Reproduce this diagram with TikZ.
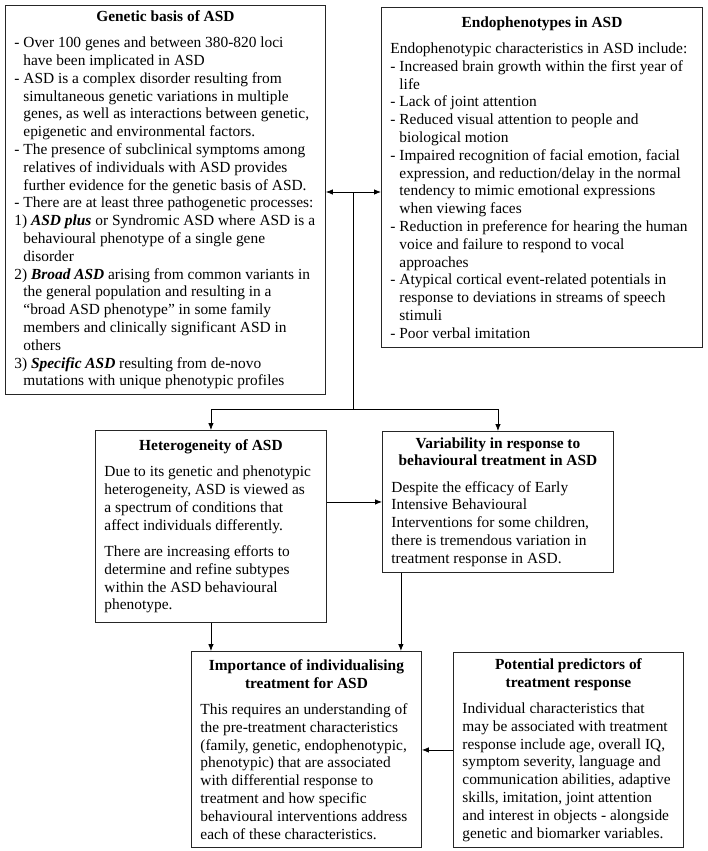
\documentclass[tikz,border=0pt]{standalone}
\usepackage{fontspec}
\setmainfont{Liberation Serif}
\usetikzlibrary{arrows.meta, positioning, calc}

\newcommand{\bodyfont}{\fontsize{15.4pt}{17.8pt}\selectfont}
\newcommand{\paneltitle}[1]{{\centering\bfseries #1\par}\vspace{8.5pt}\leftskip=4pt\relax}
\newcommand{\listitem}[2]{\hangindent=9pt\hangafter=1 #1 #2\par}

\tikzset{
  panel/.style={draw=black!85, line width=0.9pt, anchor=north west, align=flush left,
    inner xsep=5pt, inner ysep=0pt, font=\bodyfont},
  arrowline/.style={line width=0.8pt, -{Latex[length=7pt,width=5.5pt]}},
  twoway/.style={line width=0.8pt, {Latex[length=7pt,width=5.5pt]}-{Latex[length=7pt,width=5.5pt]}},
  plainline/.style={line width=0.8pt}
}

\begin{document}
\begin{tikzpicture}[x=1pt, y=-1pt]
  \useasboundingbox (0,0) rectangle (708,851);

  % Top row
  \node[panel, text width=310pt, minimum height=389pt] (genetic) at (5,5) {
    \paneltitle{Genetic basis of ASD}
    \listitem{-}{Over 100 genes and between 380-820 loci\newline have been implicated in ASD}
    \listitem{-}{ASD is a complex disorder resulting from\newline simultaneous genetic variations in multiple\newline genes, as well as interactions between genetic,\newline epigenetic and environmental factors.}
    \listitem{-}{The presence of subclinical symptoms among\newline relatives of individuals with ASD provides\newline further evidence for the genetic basis of ASD.}
    \listitem{-}{There are at least three pathogenetic processes:}
    \listitem{1)}{\textbf{\textit{ASD plus}} or Syndromic ASD where ASD is a\newline behavioural phenotype of a single gene\newline disorder}
    \listitem{2)}{\textbf{\textit{Broad ASD}} arising from common variants in\newline the general population and resulting in a\newline “broad ASD phenotype” in some family\newline members and clinically significant ASD in\newline others}
    \listitem{3)}{\textbf{\textit{Specific ASD}} resulting from de-novo\newline mutations with unique phenotypic profiles}
  };

  \node[panel, text width=311pt, minimum height=340pt] (endo) at (381,7) {
    \paneltitle{Endophenotypes in ASD}
    Endophenotypic characteristics in ASD include:\par
    \listitem{-}{Increased brain growth within the first year of\newline life}
    \listitem{-}{Lack of joint attention}
    \listitem{-}{Reduced visual attention to people and\newline biological motion}
    \listitem{-}{Impaired recognition of facial emotion, facial\newline expression, and reduction/delay in the normal\newline tendency to mimic emotional expressions\newline when viewing faces}
    \listitem{-}{Reduction in preference for hearing the human\newline voice and failure to respond to vocal\newline approaches}
    \listitem{-}{Atypical cortical event-related potentials in\newline response to deviations in streams of speech\newline stimuli}
    \listitem{-}{Poor verbal imitation}
  };

  % Middle row
  \node[panel, text width=221pt, minimum height=192pt] (het) at (95,430) {
    \paneltitle{Heterogeneity of ASD}
    Due to its genetic and phenotypic\newline heterogeneity, ASD is viewed as\newline a spectrum of conditions that\newline affect individuals differently.\par
    \vspace{8.5pt}
    There are increasing efforts to\newline determine and refine subtypes\newline within the ASD behavioural\newline phenotype.\par
  };

  \node[panel, text width=221pt, minimum height=141pt] (var) at (382,431) {
    \paneltitle{Variability in response to\\behavioural treatment in ASD}
    Despite the efficacy of Early\newline Intensive Behavioural\newline Interventions for some children,\newline there is tremendous variation in\newline treatment response in ASD.\par
  };

  % Bottom row
  \node[panel, text width=220pt, minimum height=196pt] (imp) at (191,651) {
    \paneltitle{Importance of individualising\\treatment for ASD}
    This requires an understanding of\newline the pre-treatment characteristics\newline (family, genetic, endophenotypic,\newline phenotypic) that are associated\newline with differential response to\newline treatment and how specific\newline behavioural interventions address\newline each of these characteristics.\par
  };

  \node[panel, text width=220pt, minimum height=195pt] (pred) at (453,652) {
    \paneltitle{Potential predictors of\\treatment response}
    Individual characteristics that\newline may be associated with treatment\newline response include age, overall IQ,\newline symptom severity, language and\newline communication abilities, adaptive\newline skills, imitation, joint attention\newline and interest in objects - alongside\newline genetic and biomarker variables.\par
  };

  % Connectors
  \coordinate (hub) at (353,192);
  \coordinate (split) at (353,409);
  \coordinate (varin) at ([xshift=-21pt]imp.north east);
  \draw[twoway] (genetic.east |- hub) -- (endo.west |- hub);
  \draw[plainline] (hub) -- (split);
  \draw[arrowline] (split) -| (het.north);
  \draw[arrowline] (split) -| (var.north);
  \draw[arrowline] (het.east |- var.west) -- (var.west);
  \draw[arrowline] (het.south) -- (het.south |- imp.north);
  \draw[arrowline] (var.south -| varin) -- (varin);
  \draw[arrowline] (pred.west) -- (imp.east |- pred.west);
\end{tikzpicture}
\end{document}
